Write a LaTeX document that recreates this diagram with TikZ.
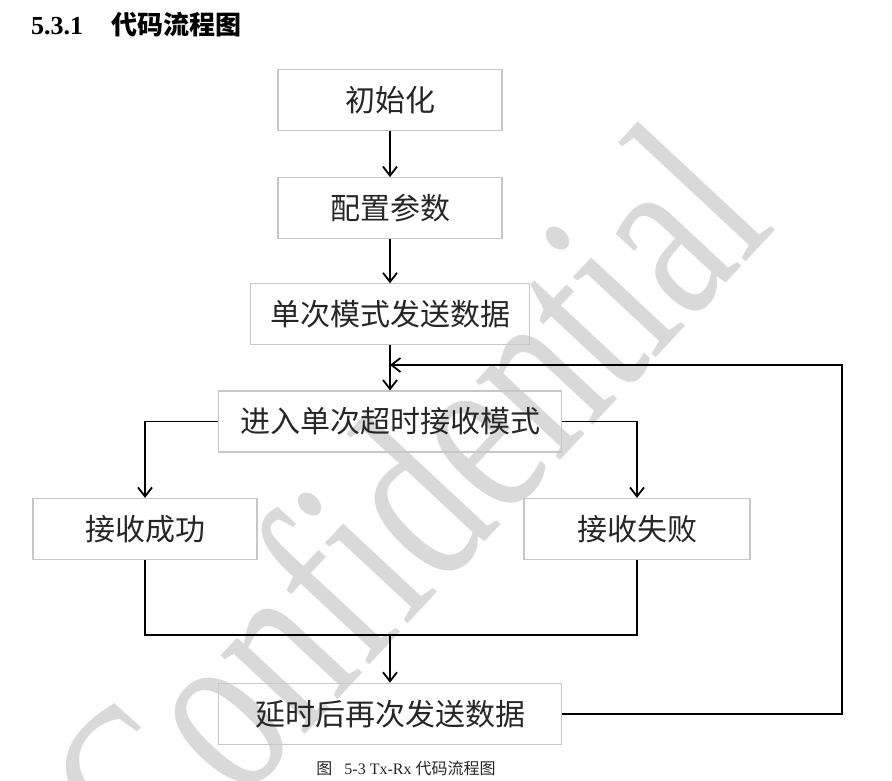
\documentclass[tikz,border=0pt]{standalone}
\usepackage{fontspec}
\setmainfont{Liberation Serif}
\newfontfamily\cjk{Noto Sans CJK SC}
\usetikzlibrary{positioning,arrows.meta}
\tikzset{
  stepbox/.style={draw=black!22, line width=1.2pt, minimum height=61pt, inner sep=0pt,
    text=black!85, font=\cjk\fontsize{30}{30}\selectfont},
  flow/.style={line width=1.8pt},
}
\begin{document}
\begin{tikzpicture}[x=1pt,y=1pt,>={Straight Barb[length=9pt,width=14pt]}]
  \useasboundingbox (0,0) rectangle (892,781);
  % watermark
  \node[rotate=47, anchor=base east, inner sep=0pt, text=black!15, font=\fontsize{182}{182}\selectfont]
    (wm) at (778,554) {\scalebox{1}[1.38]{Confidential}};
  % heading
  \node[anchor=base west, inner sep=0pt, font=\bfseries\fontsize{26}{26}\selectfont] (title) at (31,746)
    {5.3.1\hspace{28pt}{\cjk 代码流程图}};
  % steps
  \node[stepbox, minimum width=224pt] (init) at (390,681) {初始化};
  \node[stepbox, minimum width=224pt, below=46pt of init] (cfg) {配置参数};
  \node[stepbox, minimum width=279pt, below=44pt of cfg] (send) {单次模式发送数据};
  \node[stepbox, minimum width=343pt, below=45pt of send] (rx) {进入单次超时接收模式};
  \node[stepbox, minimum width=224pt] (ok) at (145,252) {接收成功};
  \node[stepbox, minimum width=226pt] (fail) at (637,252) {接收失败};
  \node[stepbox, minimum width=343pt, below=230pt of rx] (delay) {延时后再次发送数据};
  % connectors
  \draw[flow,->] (init) -- (cfg);
  \draw[flow,->] (cfg) -- (send);
  \draw[flow,->] (send) -- (rx);
  \draw[flow,->] (rx.west) -| (ok.north);
  \draw[flow,->] (rx.east) -| (fail.north);
  \coordinate (join) at (delay.north |- 0,146);
  \draw[flow] (ok.south) |- (join) -| (fail.south);
  \draw[flow,->] (join) -- (delay);
  \coordinate (back) at (842,416);
  \draw[flow,->] (delay.east) -| (back) -- (send.south |- back);
  % caption
  \node[font=\fontsize{16}{16}\selectfont, text=black!85] (cap) at (406,13)
    {{\cjk 图}\hspace{12pt}5-3 Tx-Rx {\cjk 代码流程图}};
\end{tikzpicture}
\end{document}
